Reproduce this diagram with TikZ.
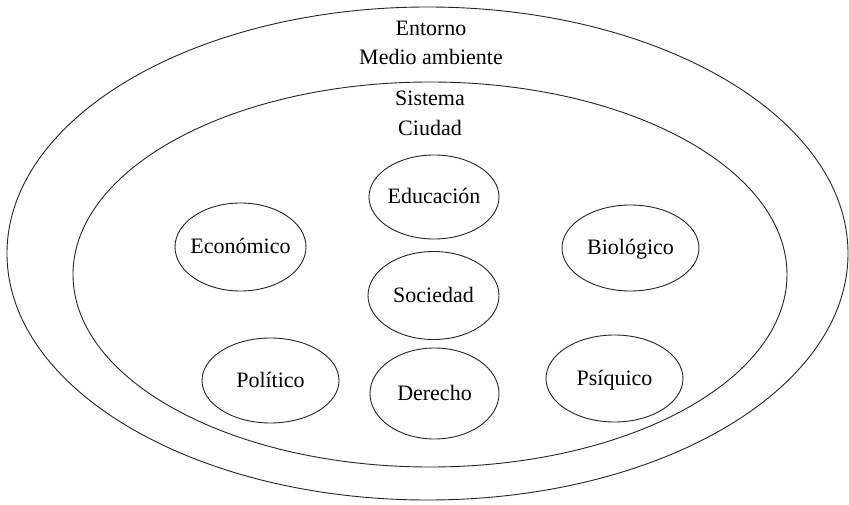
\documentclass[tikz,border=0pt]{standalone}
\usepackage{fontspec}
\setmainfont{Liberation Serif}
\tikzset{
  ring/.style={draw=black!85, line width=0.9pt},
  lbl/.style={font=\fontsize{22}{26}\selectfont, inner sep=0pt, text height=16pt, text depth=2pt},
  head/.style={font=\fontsize{22}{26}\selectfont, inner sep=0pt, anchor=base},
}
\begin{document}
\begin{tikzpicture}[x=1pt,y=1pt]
\useasboundingbox[fill=white] (0,0) rectangle (849,504);
% outer and inner ellipses
\coordinate (outer) at (427.5,250.5);
\coordinate (inner) at (430,229.5);
\draw[ring] (outer) ellipse [x radius=420.5, y radius=246.5];
\draw[ring] (inner) ellipse [x radius=357, y radius=192.5];
\node[head] (entorno) at (431,468) {Entorno};
\node[head] (medio) at (431,439) {Medio ambiente};
\node[head] (sistema) at (430,398) {Sistema};
\node[head] (ciudad) at (430,368) {Ciudad};
% small ellipses
\coordinate (edu) at (434,307);
\coordinate (eco) at (240.5,257);
\coordinate (bio) at (630.5,256);
\coordinate (soc) at (433.5,208.5);
\coordinate (pol) at (270.5,123.5);
\coordinate (der) at (434.5,110.5);
\coordinate (psi) at (614.5,125.5);
\draw[ring] (edu) ellipse [x radius=65, y radius=42];
\draw[ring] (eco) ellipse [x radius=65.5, y radius=44];
\draw[ring] (bio) ellipse [x radius=68.5, y radius=43];
\draw[ring] (soc) ellipse [x radius=65.5, y radius=44];
\draw[ring] (pol) ellipse [x radius=68.5, y radius=42.5];
\draw[ring] (der) ellipse [x radius=64.5, y radius=45.5];
\draw[ring] (psi) ellipse [x radius=68.5, y radius=43.5];
\node[lbl] (tedu) at (edu) {Educación};
\node[lbl] (teco) at (eco) {Económico};
\node[lbl] (tbio) at (bio) {Biológico};
\node[lbl] (tsoc) at (soc) {Sociedad};
\node[lbl] (tpol) at (pol) {Político};
\node[lbl] (tder) at (der) {Derecho};
\node[lbl] (tpsi) at (psi) {Psíquico};
\end{tikzpicture}
\end{document}
